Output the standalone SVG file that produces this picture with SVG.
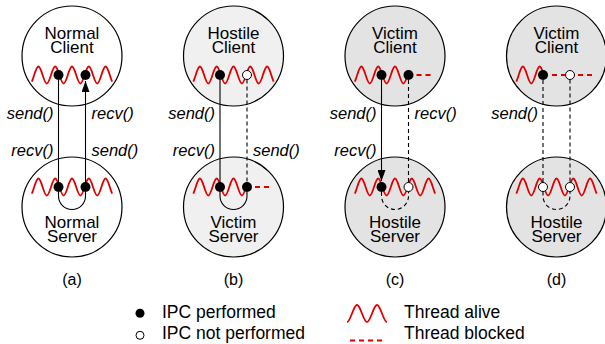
<svg xmlns="http://www.w3.org/2000/svg" xmlns:xlink="http://www.w3.org/1999/xlink" width="605" height="344" viewBox="0 0 605 344">
<style>
.ring{stroke:#000;stroke-width:1.2}
.cw{fill:#fff}.cb{fill:#f0f0f0}.cg{fill:#e3e3e3}
.t{font-family:"Liberation Sans",Arial,sans-serif;font-size:17px;text-anchor:middle;fill:#000}
.cap{font-family:"Liberation Sans",Arial,sans-serif;font-size:16px;text-anchor:middle;fill:#000}
.lg{font-family:"Liberation Sans",Arial,sans-serif;font-size:17.5px;fill:#000}
.lbl{font-family:"Liberation Sans",Arial,sans-serif;font-size:16.5px;font-style:italic;fill:#000}
.le{text-anchor:end}
.wave{fill:none;stroke:#e00000;stroke-width:1.8}
.blk{fill:none;stroke:#e00000;stroke-width:1.8;stroke-dasharray:5 4}
.on{fill:#000}
.off{fill:#fff;stroke:#000;stroke-width:1}
.c{fill:none;stroke:#000;stroke-width:1.1}
.d{stroke-dasharray:4 3}
</style>
<defs>
<path id="wave" class="wave" d="M-40.2,6.65 C-39.4,5.07 -38.6,2.54 -37.8,0 C-36.4,-4.45 -35,-8.5 -33.6,-8.5 S-30.8,-4.45 -29.4,0 S-26.6,8.5 -25.2,8.5 S-22.4,4.45 -21,0 S-18.2,-8.5 -16.8,-8.5 S-14,-4.45 -12.6,0 S-9.8,8.5 -8.4,8.5 S-5.6,4.45 -4.2,0 S-1.4,-8.5 0,-8.5 S2.8,-4.45 4.2,0 S7,8.5 8.4,8.5 S11.2,4.45 12.6,0 S15.4,-8.5 16.8,-8.5 S19.6,-4.45 21,0 S23.8,8.5 25.2,8.5 S28,4.45 29.4,0 S32.2,-8.5 33.6,-8.5 S36.4,-4.45 37.8,0 C38.6,2.54 39.4,5.07 40.2,6.65"/>
<path id="waveR" class="wave" d="M-40.2,6.65 C-39.4,5.07 -38.6,2.54 -37.8,0 C-36.4,-4.45 -35,-8.5 -33.6,-8.5 S-30.8,-4.45 -29.4,0 S-26.6,8.5 -25.2,8.5 S-22.4,4.45 -21,0 S-18.2,-8.5 -16.8,-8.5 S-14,-4.45 -12.6,0 S-9.8,8.5 -8.4,8.5 S-5.6,4.45 -4.2,0 S-1.4,-8.5 0,-8.5 S2.8,-4.45 4.2,0 S7,8.5 8.4,8.5 S11.2,4.45 12.6,0"/>
<path id="waveL" class="wave" d="M-40.2,6.65 C-39.4,5.07 -38.6,2.54 -37.8,0 C-36.4,-4.45 -35,-8.5 -33.6,-8.5 S-30.8,-4.45 -29.4,0 S-26.6,8.5 -25.2,8.5 S-22.4,4.45 -21,0 S-18.2,-8.5 -16.8,-8.5 S-14,-4.45 -12.6,0"/>
<path id="blkR" class="blk" d="M12.5,0 H35.5"/>
<path id="blkL" class="blk" d="M-13.5,0 H13.5"/>
<marker id="arr" markerUnits="userSpaceOnUse" viewBox="0 0 11 8" refX="11" refY="4" markerWidth="11" markerHeight="8" orient="auto">
<path d="M0,0 L11,4 L0,8 z" fill="#000"/>
</marker>
</defs>

<!-- (a) -->
<g id="a-client">
<circle class="ring cw" cx="72" cy="56" r="50"/>
<text class="t" x="72" y="39">Normal</text>
<text class="t" x="72" y="53">Client</text>
<use href="#wave" x="72" y="75"/>
<circle class="on" cx="58.5" cy="75" r="5"/>
<circle class="on" cx="85.5" cy="75" r="5"/>
</g>
<g id="a-server">
<circle class="ring cw" cx="72" cy="207" r="50"/>
<use href="#wave" x="72" y="187"/>
<circle class="on" cx="58.5" cy="187" r="5"/>
<circle class="on" cx="85.5" cy="187" r="5"/>
<text class="t" x="72" y="228">Normal</text>
<text class="t" x="72" y="242">Server</text>
</g>

<!-- (b) -->
<g id="b-client">
<circle class="ring cb" cx="233.5" cy="56" r="50"/>
<text class="t" x="233.5" y="39">Hostile</text>
<text class="t" x="233.5" y="53">Client</text>
<use href="#wave" x="233.5" y="75"/>
<circle class="on" cx="220" cy="75" r="5"/>
<circle class="off" cx="247" cy="75" r="4.5"/>
</g>
<g id="b-server">
<circle class="ring cb" cx="233.5" cy="207" r="50"/>
<use href="#waveR" x="233.5" y="187"/>
<use href="#blkR" x="233.5" y="187"/>
<circle class="on" cx="220" cy="187" r="5"/>
<circle class="on" cx="247" cy="187" r="5"/>
<text class="t" x="233.5" y="228">Victim</text>
<text class="t" x="233.5" y="242">Server</text>
</g>

<!-- (c) -->
<g id="c-client">
<circle class="ring cg" cx="395" cy="56" r="50"/>
<text class="t" x="395" y="39">Victim</text>
<text class="t" x="395" y="53">Client</text>
<use href="#waveR" x="395" y="75"/>
<use href="#blkR" x="395" y="75"/>
<circle class="on" cx="381.5" cy="75" r="5"/>
<circle class="on" cx="408.5" cy="75" r="5"/>
</g>
<g id="c-server">
<circle class="ring cg" cx="395" cy="207" r="50"/>
<use href="#wave" x="395" y="187"/>
<circle class="on" cx="381.5" cy="187" r="5"/>
<circle class="off" cx="408.5" cy="187" r="4.5"/>
<text class="t" x="395" y="228">Hostile</text>
<text class="t" x="395" y="242">Server</text>
</g>

<!-- (d) -->
<g id="d-client">
<circle class="ring cg" cx="556.5" cy="56" r="50"/>
<text class="t" x="556.5" y="39">Victim</text>
<text class="t" x="556.5" y="53">Client</text>
<use href="#waveL" x="556.5" y="75"/>
<use href="#blkL" x="556.5" y="75"/>
<use href="#blkR" x="556.5" y="75"/>
<circle class="on" cx="543" cy="75" r="5"/>
<circle class="off" cx="570" cy="75" r="4.5"/>
</g>
<g id="d-server">
<circle class="ring cg" cx="556.5" cy="207" r="50"/>
<use href="#wave" x="556.5" y="187"/>
<circle class="off" cx="543" cy="187" r="4.5"/>
<circle class="off" cx="570" cy="187" r="4.5"/>
<text class="t" x="556.5" y="228">Hostile</text>
<text class="t" x="556.5" y="242">Server</text>
</g>

<g id="connectors">
<!-- (a) -->
<path class="c" d="M58.5,80 V182"/>
<path class="c" d="M85.5,182 V81" marker-end="url(#arr)"/>
<path class="c" d="M58.5,192 V196 A13.5,13.5 0 0 0 85.5,196 V192"/>
<!-- (b) -->
<path class="c" d="M220,80 V182"/>
<path class="c d" d="M247,79.5 V182"/>
<path class="c" d="M220,192 V196 A13.5,13.5 0 0 0 247,196 V192"/>
<!-- (c) -->
<path class="c" d="M381.5,80 V181" marker-end="url(#arr)"/>
<path class="c d" d="M408.5,80 V182.5"/>
<path class="c d" d="M381.5,192 V196 A13.5,13.5 0 0 0 408.5,196 V191.5"/>
<!-- (d) -->
<path class="c d" d="M543,80 V182.5"/>
<path class="c d" d="M570,79.5 V182.5"/>
<path class="c d" d="M543,191.5 V196 A13.5,13.5 0 0 0 570,196 V191.5"/>
</g>

<g id="labels">
<text class="lbl le" x="53.5" y="119">send()</text>
<text class="lbl le" x="53.5" y="156">recv()</text>
<text class="lbl" x="91.5" y="119">recv()</text>
<text class="lbl" x="91.5" y="156">send()</text>
<text class="lbl le" x="215" y="119">send()</text>
<text class="lbl le" x="215" y="156">recv()</text>
<text class="lbl" x="253" y="156">send()</text>
<text class="lbl le" x="376.5" y="119">send()</text>
<text class="lbl le" x="376.5" y="156">recv()</text>
<text class="lbl" x="414.5" y="119">recv()</text>
<text class="lbl le" x="538" y="119">send()</text>
</g>

<g id="captions">
<text class="cap" x="72" y="285">(a)</text>
<text class="cap" x="233.5" y="285">(b)</text>
<text class="cap" x="395" y="285">(c)</text>
<text class="cap" x="556.5" y="285">(d)</text>
</g>

<g id="legend">
<circle class="on" cx="140" cy="313.3" r="4.5"/>
<circle class="off" cx="140" cy="335.3" r="4"/>
<text class="lg" x="162" y="317.5">IPC performed</text>
<text class="lg" x="162" y="338.5">IPC not performed</text>
<path class="wave" transform="translate(367,313.5)" d="M-20,8.5 C-18.33,8.5 -16.67,4.45 -15,0 S-11.67,-8.5 -10,-8.5 S-6.67,-4.45 -5,0 S-1.67,8.5 0,8.5 S3.33,4.45 5,0 S8.33,-8.5 10,-8.5 S13.33,-4.45 15,0 S18.33,8.5 20,8.5"/>
<path class="blk" d="M350,340.5 H382"/>
<text class="lg" x="404" y="317.5">Thread alive</text>
<text class="lg" x="404" y="338.5">Thread blocked</text>
</g>
</svg>
